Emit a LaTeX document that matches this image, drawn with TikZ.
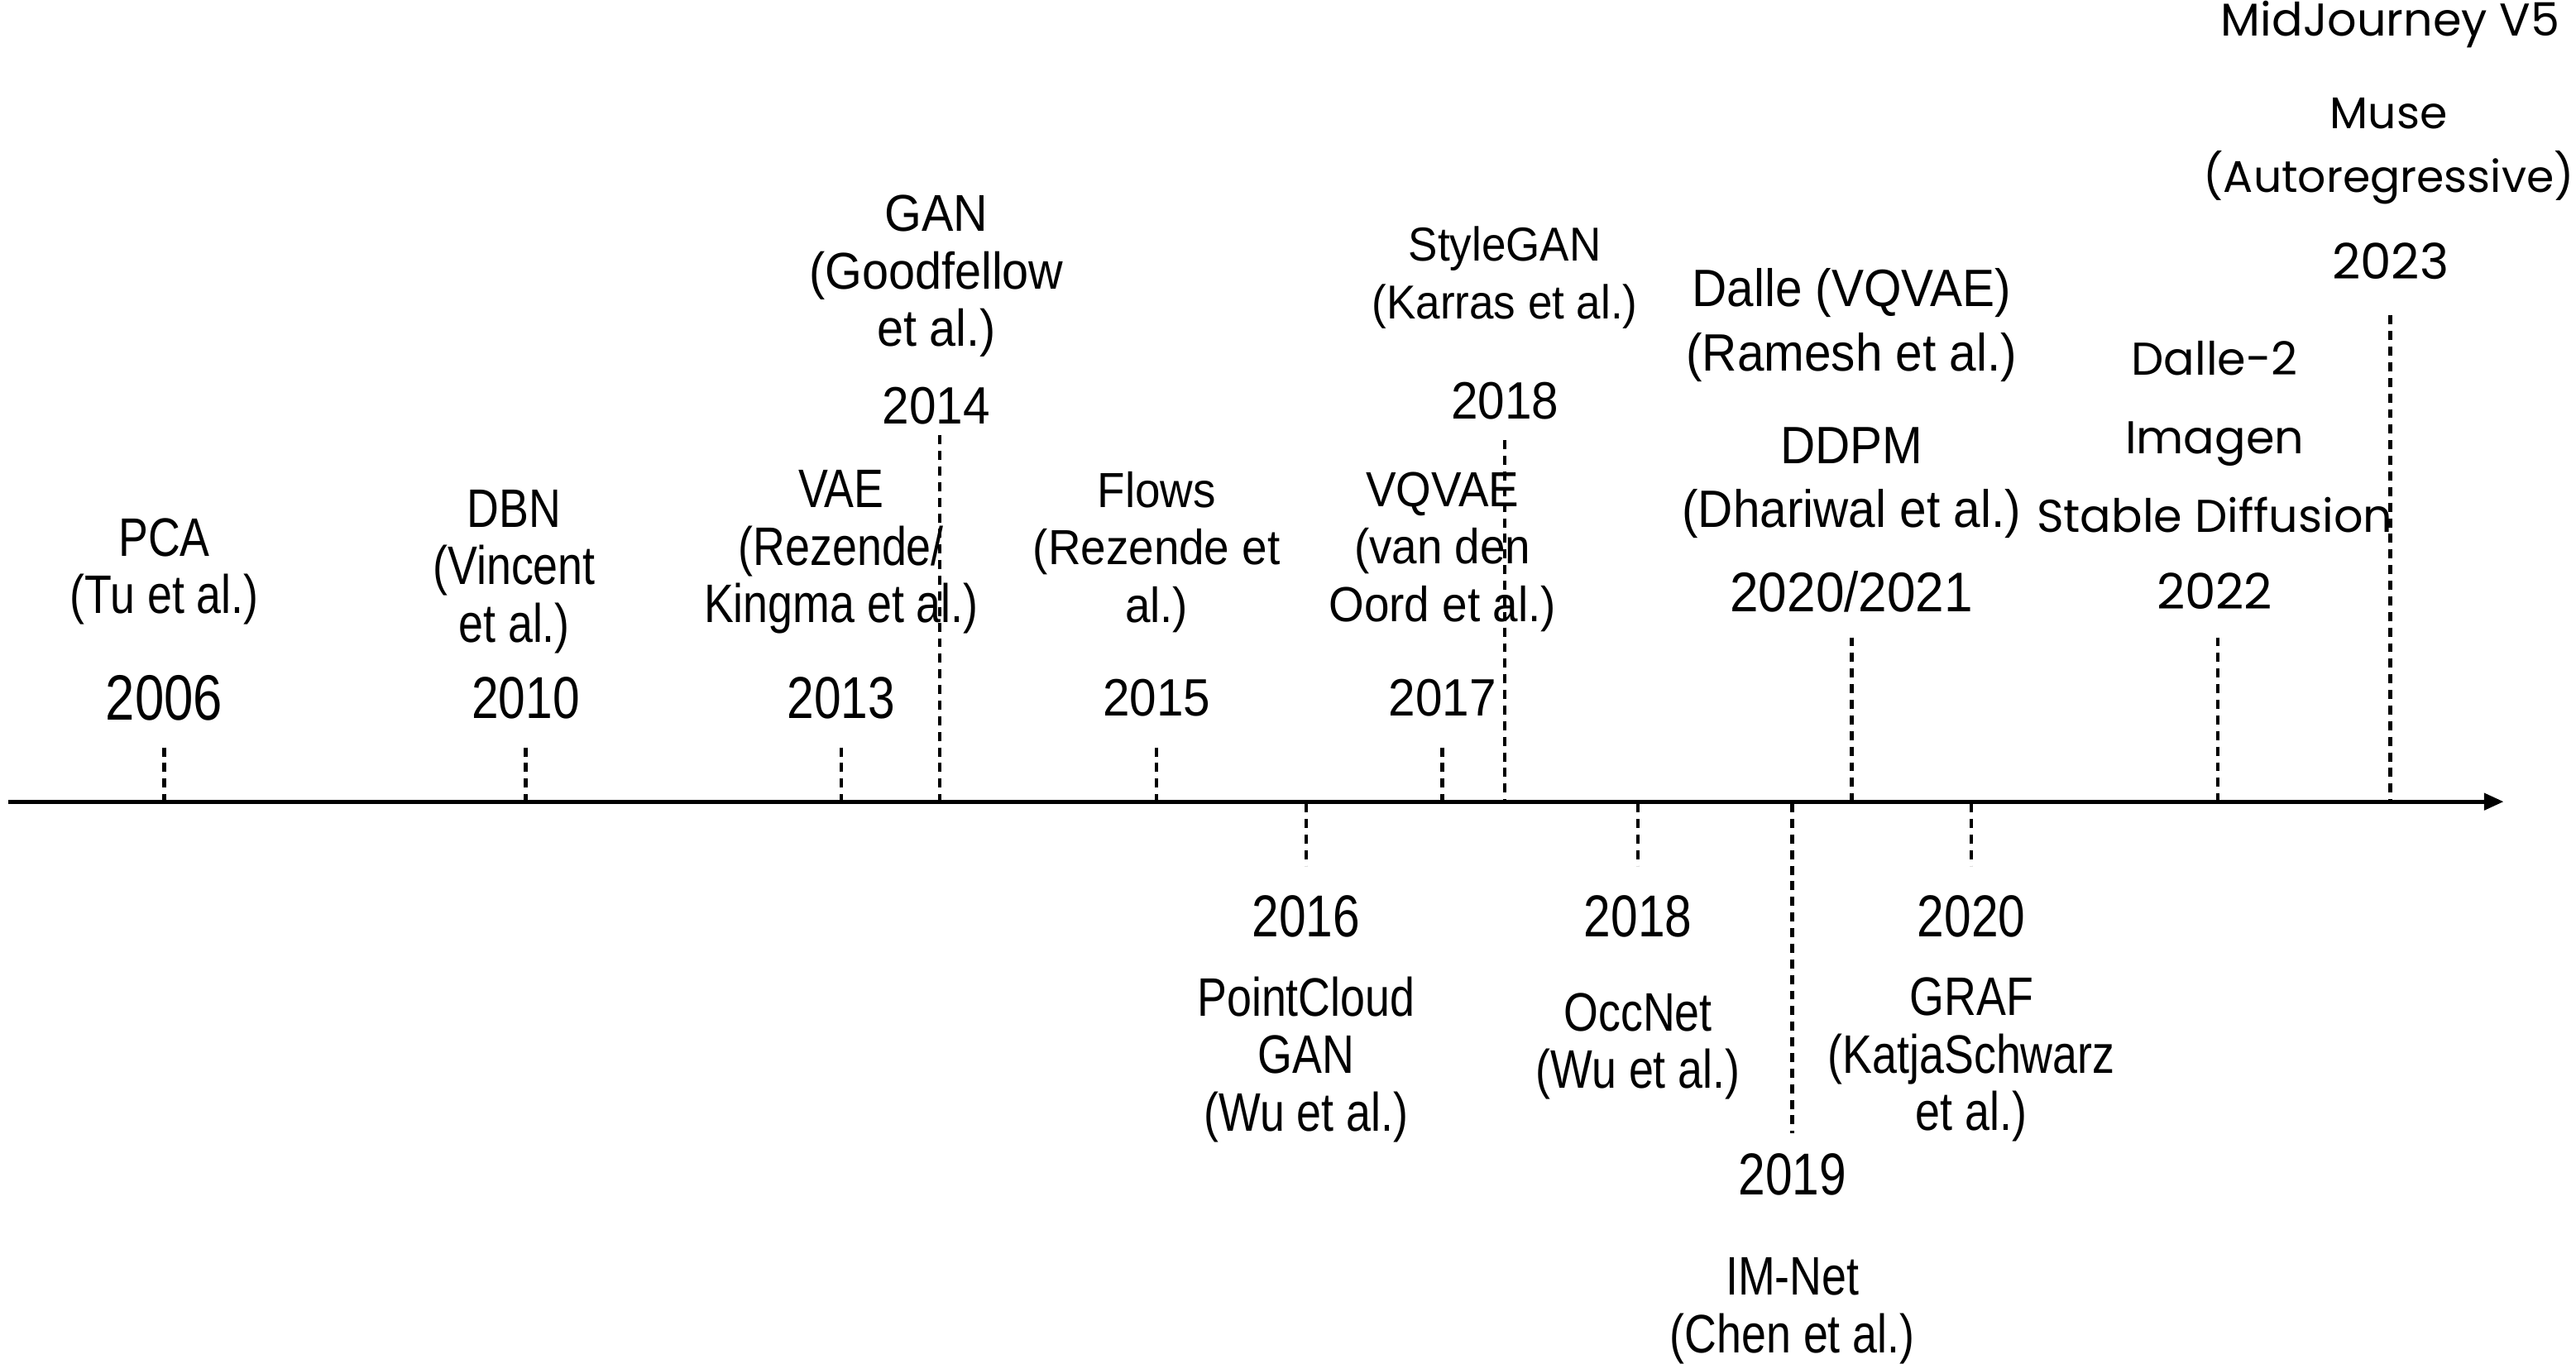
\documentclass[tikz,border=0pt]{standalone}
\usepackage{fontspec}
\setmainfont{Liberation Sans}
\newfontfamily\condfont[FakeStretch=0.82]{Liberation Sans}
\newfontfamily\midfont[FakeStretch=0.92]{Liberation Sans}
\newfontfamily\widefont{Poppins}
\newcommand\fsz[2]{\fontsize{#1}{#2}\selectfont}
\usetikzlibrary{arrows.meta}
\begin{document}
\begin{tikzpicture}[x=1pt,y=-1pt,
  lab/.style={align=center, inner sep=0pt},
  cond/.style={lab, font=\condfont\fsz{33}{35}},
  condyear/.style={lab, font=\condfont\fsz{36}{40}},
  mid/.style={lab, font=\midfont\fsz{#1}{35}},
  mid/.default=30,
  midyear/.style={lab, font=\midfont\fsz{32}{36}},
  wide/.style={lab, font=\widefont\fsz{28}{#1}},
  wide/.default=39,
  wideyear/.style={lab, font=\widefont\fsz{30}{34}},
  tick/.style={line width=2.3pt, dash pattern=on 5.5pt off 4pt},
  axis/.style={line width=2.6pt, -{Triangle[length=12pt,width=10pt]}}]
\useasboundingbox (0,0) rectangle (1568,830);

% time axis
\coordinate (a0) at (5,488);
\coordinate (a1) at (1524,488);
\draw[axis] (a0) -- (a1);

% ticks above the axis
\foreach \n/\x/\t in {t06/100/455, t10/320/455, t13/512/455, t14/572/265,
    t15/704/455, t17/878/455, t18a/916/268, t2021/1127/388, t22/1350/388, t23/1455/192}{
  \coordinate (\n top) at (\x,\t);
  \coordinate (\n ax) at (\x,487);
  \draw[tick] (\n top) -- (\n ax);
}
% ticks below the axis
\foreach \n/\x/\b in {t16/795/527, t18b/997/527, t19/1091/690, t20/1200/527}{
  \coordinate (\n ax) at (\x,489);
  \coordinate (\n bot) at (\x,\b);
  \draw[tick] (\n ax) -- (\n bot);
}

% labels above the axis
\node[condyear, font=\condfont\fsz{39}{42}] (y06) at (100,425) {2006};
\node[cond] (m06) at (100,348) {PCA\\(Tu et al.)};
\node[condyear] (y10) at (320,425) {2010};
\node[cond] (m10) at (313,348) {DBN\\(Vincent\\et al.)};
\node[condyear] (y13) at (512,425) {2013};
\node[cond] (m13) at (512,336) {VAE\\(Rezende/\\Kingma et al.)};
\node[midyear] (y14) at (570,247) {2014};
\node[mid=31.5] (m14) at (570,168) {GAN\\(Goodfellow\\et al.)};
\node[midyear] (y15) at (704,425) {2015};
\node[mid] (m15) at (704,336) {Flows\\(Rezende et\\al.)};
\node[midyear] (y17) at (878,425) {2017};
\node[mid] (m17) at (878,336) {VQVAE\\(van den\\Oord et al.)};
\node[midyear] (y18a) at (916,244) {2018};
\node[mid=29] (m18a) at (916,169) {StyleGAN\\(Karras et al.)};
\node[lab, font=\midfont\fsz{34}{38}] (y2021) at (1127,360) {2020/2021};
\node[lab, font=\midfont\fsz{32}{39}] (m2021b) at (1127,294) {DDPM\\(Dhariwal et al.)};
\node[lab, font=\midfont\fsz{32}{39}] (m2021a) at (1127,198) {Dalle (VQVAE)\\(Ramesh et al.)};
\node[wideyear] (y22) at (1348,360) {2022};
\node[wide=48] (m22) at (1348,266) {Dalle-2\\Imagen\\Stable Diffusion};
\node[wideyear] (y23) at (1455,159) {2023};
\node[wide, font=\widefont\fsz{27}{39}] (m23b) at (1454,92) {Muse\\(Autoregressive)};
\node[wide] (m23a) at (1455,15) {MidJourney V5};

% labels below the axis
\node[condyear] (y16) at (795,558) {2016};
\node[cond] (m16) at (795,645) {PointCloud\\GAN\\(Wu et al.)};
\node[condyear] (y18b) at (997,558) {2018};
\node[cond] (m18b) at (997,637) {OccNet\\(Wu et al.)};
\node[condyear] (y20) at (1200,558) {2020};
\node[cond] (m20) at (1200,645) {GRAF\\(KatjaSchwarz\\et al.)};
\node[condyear] (y19) at (1091,715) {2019};
\node[cond] (m19) at (1091,798) {IM-Net\\(Chen et al.)};
\end{tikzpicture}
\end{document}
